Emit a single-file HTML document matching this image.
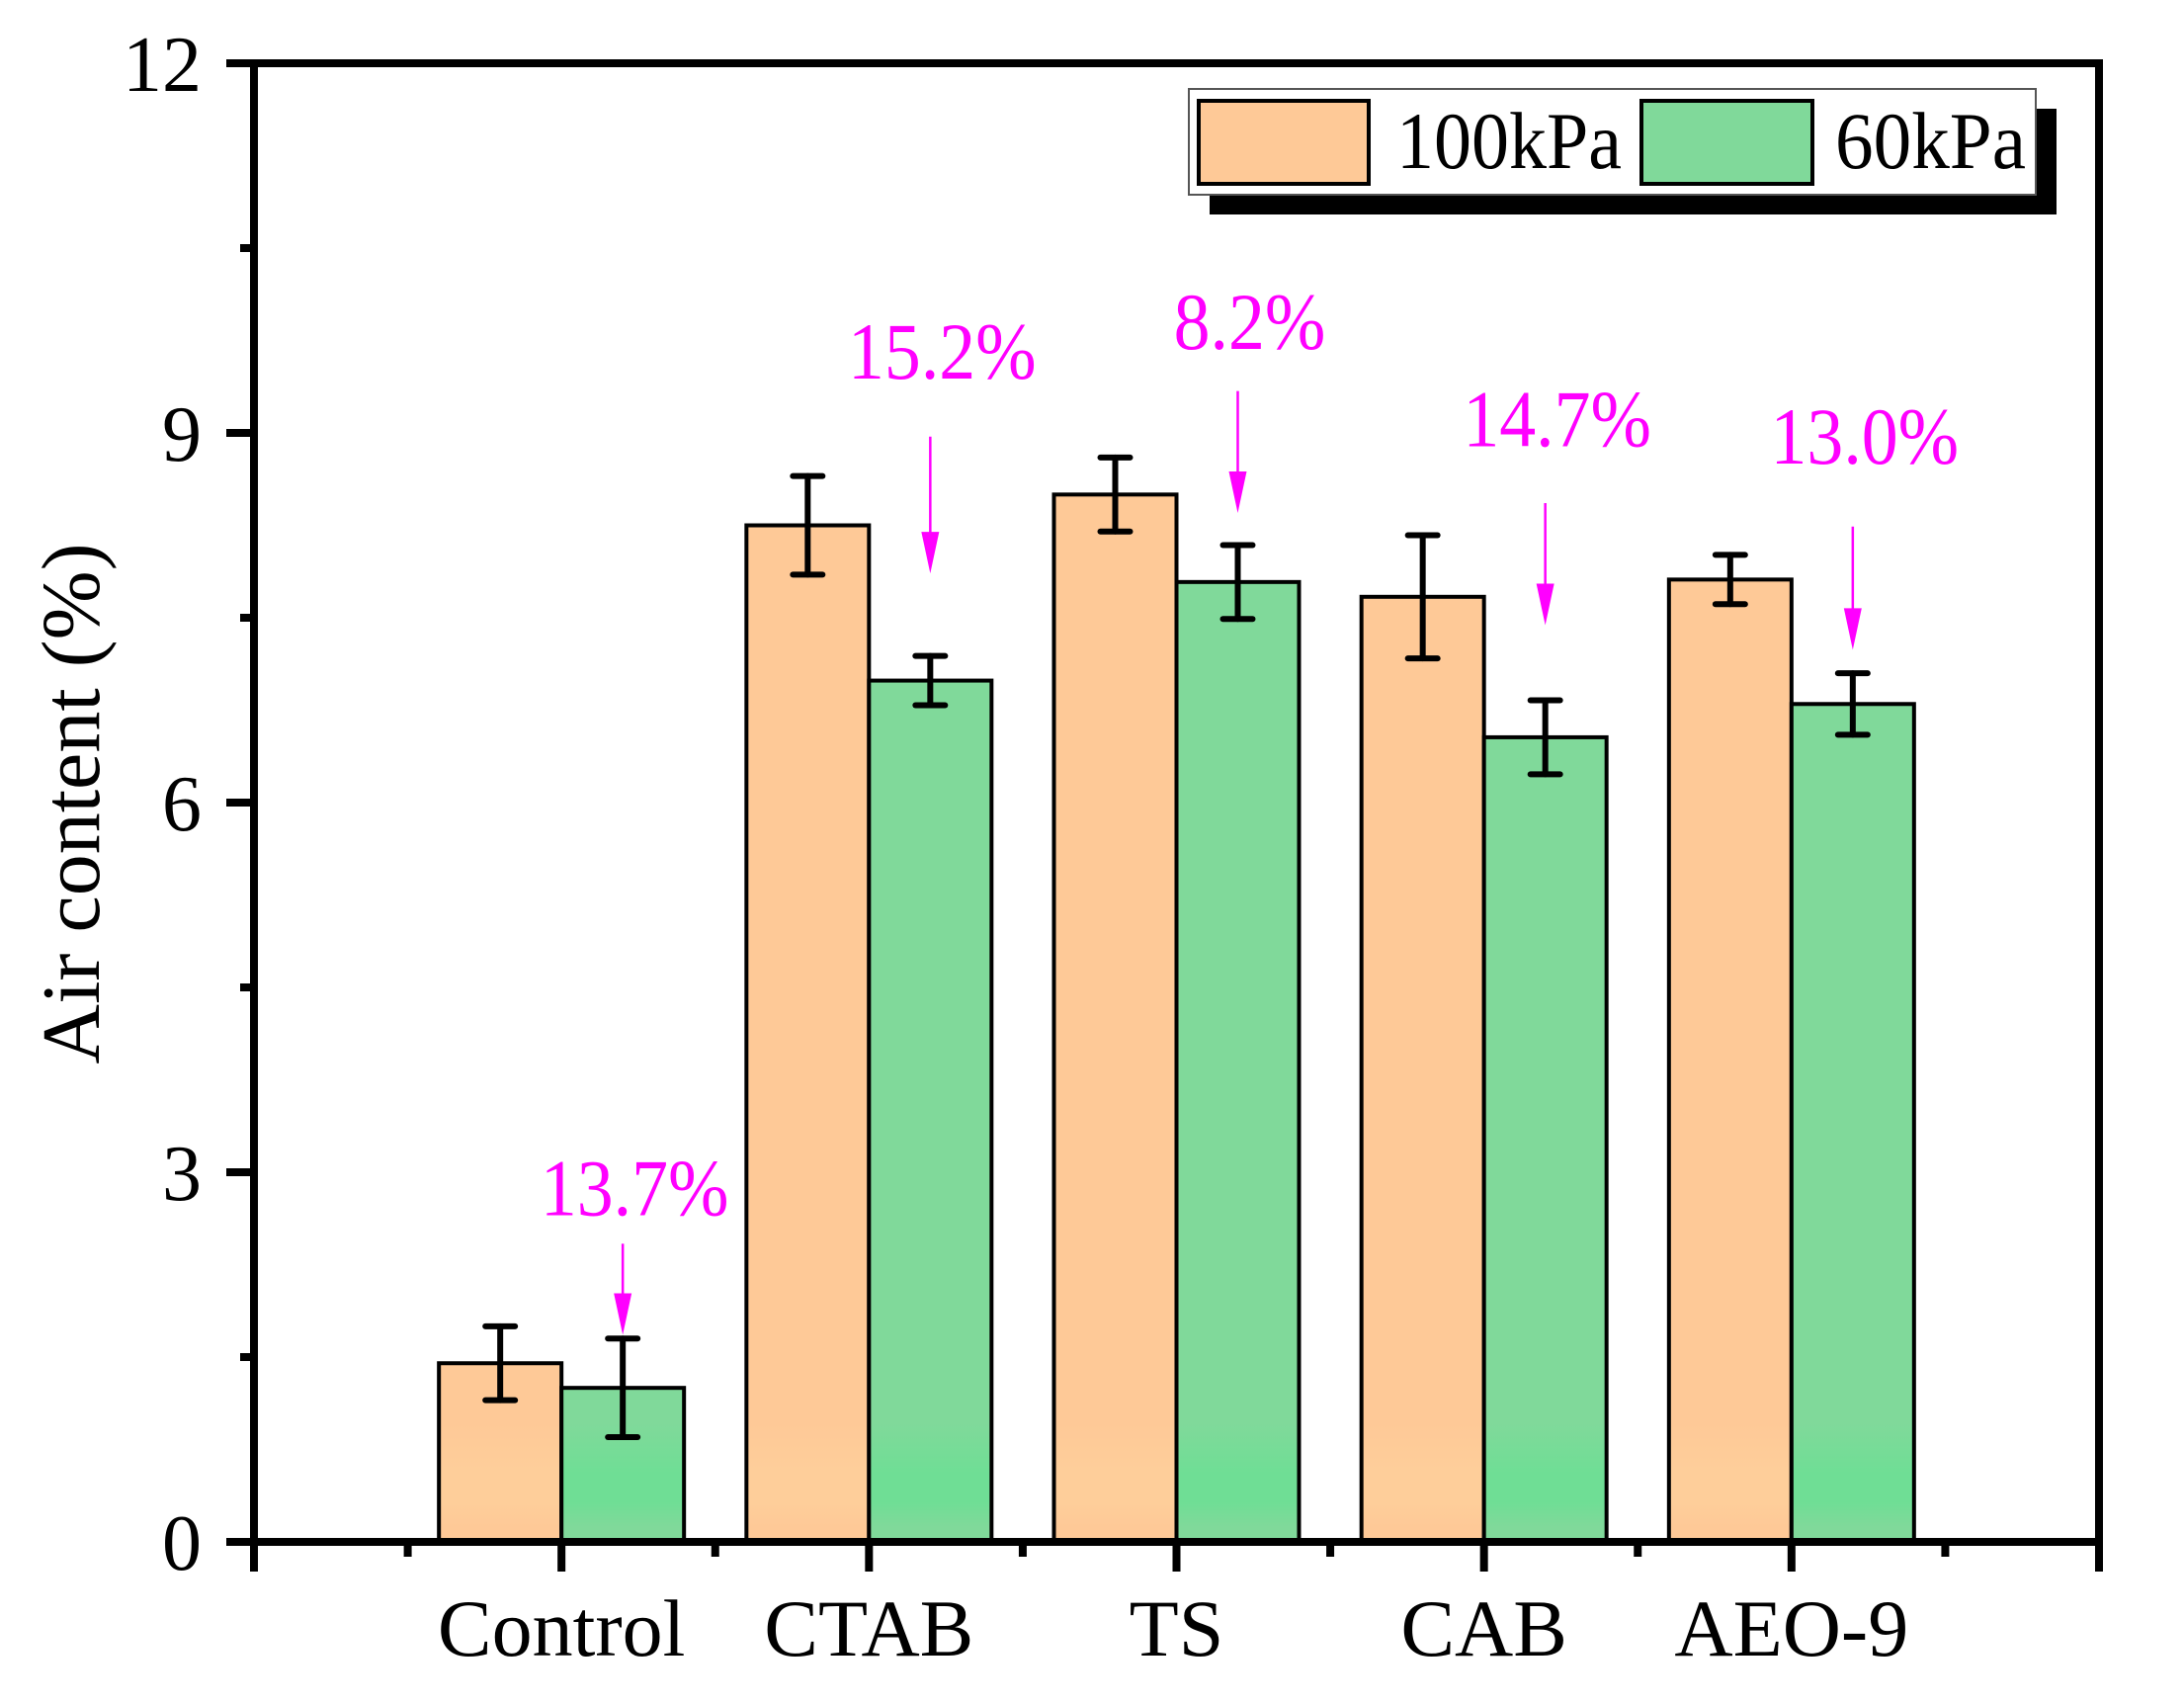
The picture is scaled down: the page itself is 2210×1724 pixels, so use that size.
<!DOCTYPE html>
<html><head><meta charset="utf-8"><style>
html,body{margin:0;padding:0;background:#fff;}
svg{display:block;font-family:"Liberation Serif",serif;}
</style></head><body>
<svg id="chart" width="2210" height="1724" viewBox="0 0 2210 1724" xmlns="http://www.w3.org/2000/svg">
<defs></defs>
<g id="plot"></g>
</svg>
<script>
const categories = ["Control","CTAB","TS","CAB","AEO-9"];
const series100 = [1.45, 8.25, 8.5, 7.67, 7.81];
const err100 = [0.3, 0.4, 0.3, 0.5, 0.2];
const series60 = [1.25, 6.99, 7.79, 6.53, 6.8];
const err60 = [0.4, 0.2, 0.3, 0.3, 0.25];
const reductionLabels = ["13.7%","15.2%","8.2%","14.7%","13.0%"];
const labelValues = [2.65, 9.44, 9.68, 8.89, 8.75];
const arrowTopValues = [2.42, 8.97, 9.34, 8.43, 8.24];
const arrowTipValues = [1.68, 7.86, 8.35, 7.44, 7.24];
const yTicks = [0,3,6,9,12];
const yMinorTicks = [1.5,4.5,7.5,10.5];

const NS = "http://www.w3.org/2000/svg";
const g = document.getElementById("plot");
const X0 = 257, X1 = 2124, Y0 = 1560, Y1 = 64;
const step = (X1 - X0) / 6;
function xc(i){ return X0 + (i + 1) * step; }
function y(v){ return Y0 - (v / 12) * (Y0 - Y1); }
const bw = 124;
function mk(tag, attrs, parent){
  const e = document.createElementNS(NS, tag);
  for (const k in attrs) e.setAttribute(k, attrs[k]);
  (parent || g).appendChild(e);
  return e;
}
function bandGrad(id, base, band){
  const defs = document.querySelector("defs");
  const lg = mk("linearGradient", {id:id, x1:0, y1:0, x2:0, y2:1724, gradientUnits:"userSpaceOnUse"}, defs);
  [[0,base],[1440/1724,base],[1490/1724,band],[1520/1724,band],[1545/1724,base],[1,base]].forEach(s=>{
    mk("stop",{offset:s[0],"stop-color":s[1]},lg);
  });
}
bandGrad("gO","#FEC997","#FECE9A");
bandGrad("g6","#80D99A","#6FDE95");

categories.forEach((c,i)=>{
  const b1 = mk("rect",{x:xc(i)-bw, y:y(series100[i]), width:bw, height:Y0-y(series100[i]), fill:"url(#gO)", stroke:"#000","stroke-width":4});
  
  
  const b2 = mk("rect",{x:xc(i), y:y(series60[i]), width:bw, height:Y0-y(series60[i]), fill:"url(#g6)", stroke:"#000","stroke-width":4});
  
  
});
function errBar(cx, v, e, name){
  const eg = mk("g",{stroke:"#000","stroke-width":6,"stroke-linecap":"round",fill:"none"});
  
  
  mk("line",{x1:cx,x2:cx,y1:y(v+e),y2:y(v-e)},eg);
  mk("line",{x1:cx-15,x2:cx+15,y1:y(v+e),y2:y(v+e)},eg);
  mk("line",{x1:cx-15,x2:cx+15,y1:y(v-e),y2:y(v-e)},eg);
}
categories.forEach((c,i)=>{
  errBar(xc(i)-bw/2, series100[i], err100[i], 'error-bar-100kpa-'+c.toLowerCase());
  errBar(xc(i)+bw/2, series60[i], err60[i], 'error-bar-60kpa-'+c.toLowerCase());
});
categories.forEach((c,i)=>{
  const ax = xc(i)+bw/2;
  const tipY = y(arrowTipValues[i]);
  const topY = y(arrowTopValues[i]);
  const ag = mk("g",{});
  
  
  mk("line",{x1:ax,x2:ax,y1:topY,y2:tipY-35,stroke:"#FF00FF","stroke-width":2.5},ag);
  mk("polygon",{points:`${ax-9},${tipY-42} ${ax+9},${tipY-42} ${ax},${tipY}`,fill:"#FF00FF"},ag);
  const t = mk("text",{transform:`translate(${ax+12},${y(labelValues[i])}) scale(0.9,1)`,"text-anchor":"middle","font-size":82,fill:"#FF00FF"},ag);
  t.textContent = reductionLabels[i];
});
const frame = mk("rect",{x:X0,y:Y1,width:X1-X0,height:Y0-Y1,fill:"none",stroke:"#000","stroke-width":8});


yTicks.forEach(v=>{
  mk("line",{x1:X0-28,x2:X0,y1:y(v),y2:y(v),stroke:"#000","stroke-width":8});
  const t = mk("text",{x:204,y:y(v)+28,"text-anchor":"end","font-size":80},g);
  
  
  t.textContent = v;
});
yMinorTicks.forEach(v=>{
  mk("line",{x1:X0-14,x2:X0,y1:y(v),y2:y(v),stroke:"#000","stroke-width":8});
});
for(let k=-1;k<=5;k++){
  mk("line",{x1:X0+(k+1)*step,x2:X0+(k+1)*step,y1:Y0,y2:Y0+30,stroke:"#000","stroke-width":8});
  if(k<5) mk("line",{x1:X0+(k+1.5)*step,x2:X0+(k+1.5)*step,y1:Y0,y2:Y0+15,stroke:"#000","stroke-width":8});
}
categories.forEach((c,i)=>{
  const t = mk("text",{x:xc(i),y:1675,"text-anchor":"middle","font-size":82});
  
  
  t.textContent = c;
});
</script>
<svg style="position:absolute;left:0;top:0" width="2210" height="1724" viewBox="0 0 2210 1724" xmlns="http://www.w3.org/2000/svg" font-family="Liberation Serif, serif">
<text transform="translate(100,813) rotate(-90)" text-anchor="middle" font-size="84">Air content (%)</text>
<g>
<rect x="1224" y="110" width="857" height="107" fill="#000"/>
<rect x="1203" y="90" width="857" height="107" fill="#fff" stroke="#555" stroke-width="2"/>
<rect x="1213" y="102" width="172" height="84" fill="#FEC997" stroke="#000" stroke-width="4"/>
<text x="1413" y="170" font-size="82" textLength="228" lengthAdjust="spacingAndGlyphs">100kPa</text>
<rect x="1661" y="102" width="173" height="84" fill="#80D99A" stroke="#000" stroke-width="4"/>
<text x="1857" y="170" font-size="82" textLength="193" lengthAdjust="spacingAndGlyphs">60kPa</text>
</g>
</svg>
</body></html>
